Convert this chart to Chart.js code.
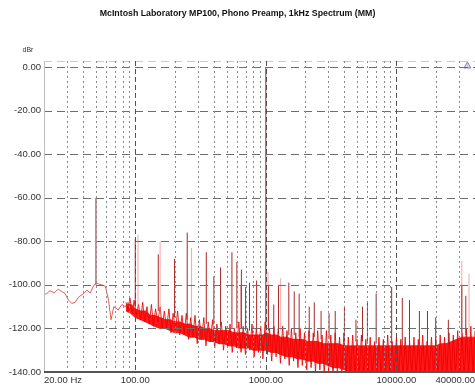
<!DOCTYPE html>
<html>
<head>
<meta charset="utf-8">
<script src="https://cdn.jsdelivr.net/npm/chart.js@4.4.1/dist/chart.umd.min.js"></script>
<style>
  html, body { margin: 0; padding: 0; background: #fff; }
</style>
</head>
<body>
<canvas id="chart" width="475" height="392"></canvas>
<script>
// MP100 phono stage, MM input, 1kHz tone spectrum (dBr vs Hz)
const titleText = 'McIntosh Laboratory MP100, Phono Preamp, 1kHz Spectrum (MM)';
const yUnit = 'dBr';

const xTickValues = [20, 100, 1000, 10000, 40000];
const xTickLabels = ['20.00 Hz', '100.00', '1000.00', '10000.00', '40000.00'];
const yTickValues = [0, -20, -40, -60, -80, -100, -120, -140];
const xGridMajor = [100, 1000, 10000];
const xGridMinor = [30, 40, 50, 60, 70, 80, 90, 200, 300, 400, 500, 600, 700, 800, 900,
  2000, 3000, 4000, 5000, 6000, 7000, 8000, 9000, 20000, 30000];

// residual trace below 100 Hz
const lfFreq = [20, 21, 22.2, 24, 25.7, 27.3, 29, 30.8, 32.7, 34.7, 36.8, 40.2, 42.6, 45.2, 47.9,
  49.5, 50.5, 52, 55.5, 59, 62.4, 65.2, 68.5, 74, 79, 84, 88, 91, 94, 96.8];
const lfLevel = [-104.5, -104, -102.7, -103.6, -102, -103, -104, -107, -108.5, -108, -105.6, -104, -102.4, -103.7, -100.5,
  -99.5, -99, -99.5, -100, -100.6, -107, -116, -110, -111.5, -109, -110, -108, -112, -109, -110];

// noise floor: solid core (upper / lower edge)
const bandFreq = [85, 92, 100, 110, 120, 130, 140, 155, 170, 185,
  200, 220, 240, 260, 285, 310, 340, 370, 400, 440,
  480, 520, 570, 620, 680, 740, 800, 870, 950, 1000,
  1100, 1200, 1300, 1450, 1600, 1750, 1900, 2100, 2300, 2500,
  2750, 3000, 3300, 3600, 4000, 4400, 4800, 5300, 5800, 6400,
  7000, 7700, 8500, 9300, 10200, 11200, 12300, 13500, 15000, 16500,
  18000, 20000, 22000, 24000, 26500, 29000, 32000, 35000, 38000, 40000];
const bandTop = [-109, -109, -111, -112, -112, -114, -114, -115, -116, -116,
  -117, -117, -118, -118, -119, -119, -120, -120, -121, -121,
  -121, -121, -122, -122, -122, -123, -123, -123, -123, -122,
  -123, -123, -124, -124, -125, -125, -125, -126, -126, -126,
  -127, -127, -127, -127, -128, -128, -128, -128, -128, -128,
  -128, -128, -128, -128, -128, -128, -128, -128, -128, -128,
  -128, -128, -127, -127, -126, -125, -124, -124, -124, -124];
const bandBottom = [-112, -113, -115, -116, -117, -118, -119, -120, -120, -121,
  -122, -122, -123, -124, -124, -125, -125, -126, -126, -127,
  -127, -128, -128, -129, -129, -129, -130, -130, -130, -130,
  -131, -131, -132, -133, -133, -134, -134, -135, -135, -136,
  -136, -137, -138, -138, -139, -140, -141, -141, -141, -141,
  -141, -141, -141, -141, -141, -141, -141, -141, -141, -141,
  -141, -141, -141, -141, -141, -141, -141, -141, -141, -141];

// noise floor: raw FFT trace over the core
const noiseFreq = [85, 88, 91, 95, 98, 102, 106, 110, 114, 118,
  123, 128, 133, 138, 143, 149, 155, 161, 167, 174,
  181, 188, 195, 203, 211, 219, 228, 237, 246, 256,
  266, 276, 287, 298, 310, 322, 335, 348, 362, 376,
  391, 406, 422, 439, 456, 474, 493, 512, 532, 553,
  575, 598, 621, 646, 671, 698, 725, 754, 783, 814,
  846, 880, 914, 950, 988, 1027, 1067, 1109, 1153, 1198,
  1245, 1294, 1345, 1398, 1453, 1510, 1570, 1631, 1696, 1762,
  1832, 1904, 1979, 2057, 2138, 2222, 2309, 2400, 2495, 2593,
  2695, 2801, 2911, 3026, 3145, 3269, 3397, 3531, 3670, 3814,
  3964, 4120, 4282, 4451, 4626, 4808, 4997, 5194, 5398, 5611,
  5831, 6061, 6299, 6547, 6805, 7073, 7351, 7640, 7941, 8253,
  8578, 8915, 9266, 9630, 10009, 10403, 10812, 11237, 11679, 12139,
  12616, 13113, 13628, 14164, 14722, 15301, 15903, 16528, 17178, 17854,
  18557, 19287, 20045, 20834, 21653, 22505, 23390, 24310, 25267, 26261,
  27294, 28367, 29483, 30643, 31848, 33101, 34403, 35756, 37163, 38625,
  40000];
const noiseLevel = [-108, -112, -106, -113, -107, -114, -109, -116, -108, -117,
  -110, -118, -109, -119, -111, -117, -110, -120, -112, -120,
  -111, -122, -113, -121, -112, -123, -114, -123, -113, -125,
  -115, -124, -114, -127, -116, -125, -115, -128, -117, -126,
  -116, -129, -118, -127, -117, -130, -119, -128, -118, -131,
  -120, -129, -117, -131, -119, -132, -120, -130, -118, -133,
  -120, -131, -119, -134, -117, -132, -120, -135, -119, -133,
  -120, -136, -119, -134, -121, -137, -120, -135, -122, -138,
  -120, -137, -122, -139, -121, -138, -122, -140, -121, -139,
  -123, -141, -121, -140, -123, -142, -122, -141, -124, -142,
  -122, -142, -124, -142, -123, -142, -125, -142, -123, -142,
  -125, -142, -124, -142, -126, -142, -124, -142, -125, -142,
  -123, -142, -126, -142, -124, -142, -125, -142, -124, -142,
  -126, -142, -124, -142, -125, -142, -123, -142, -126, -142,
  -124, -142, -125, -142, -123, -142, -124, -142, -122, -142,
  -123, -142, -121, -142, -122, -142, -120, -142, -119, -142,
  -121];

// discrete tones: 1kHz fundamental, mains harmonics, distortion products
const toneFreq = [50, 100, 150, 200, 250, 350, 400, 450, 550, 600,
  650, 700, 750, 850, 1000, 1050, 1150, 1250, 1500, 1650,
  1800, 2150, 2350, 2650, 3050, 3400, 4000, 4900, 5500, 6000,
  7000, 9200, 11100, 12600, 15000, 17300, 20000, 25000, 31700, 34000];
const tonePeak = [-60, -79, -86, -88, -76, -85, -96, -92, -85, -89.5,
  -93, -101, -99, -98, 0, -100, -109, -100, -99, -103,
  -104, -110, -108, -112, -113, -112, -110, -116, -110, -108,
  -104, -101, -106, -107, -112, -112, -115, -116, -100, -105];
const toneBase = [-100, -110, -112, -115, -116, -118, -118, -119, -120, -120,
  -120, -121, -121, -121, -120, -121, -122, -122, -123, -123,
  -124, -124, -124, -125, -125, -125, -126, -126, -126, -127,
  -127, -127, -128, -128, -128, -128, -128, -127, -122, -123];

// lighter overlaid tones
const faintFreq = [105, 155, 270, 640, 1040, 1300, 31700, 36000];
const faintPeak = [-77, -80, -83, -100, -94, -97, -89, -95];
const faintBase = [-110, -113, -117, -120, -120, -121, -122, -122];

const markerFreq = [35000];
const markerLevel = [0.5];

const pts = (xs, ys) => xs.map((f, i) => ({ x: f, y: ys[i] }));
const spikes = (xs, tops, bases) => xs.flatMap((f, i) => [
  { x: f, y: bases[i] }, { x: f, y: tops[i] }, { x: f, y: null }
]);

function seg(ctx, x1, y1, x2, y2) {
  ctx.beginPath();
  ctx.moveTo(x1, y1);
  ctx.lineTo(x2, y2);
  ctx.stroke();
}

// dashed grid + frame, drawn over the trace like the analyzer does
const gridPlugin = {
  id: 'apGrid',
  afterDatasetsDraw(chart) {
    const { ctx, chartArea: a, scales: { x, y } } = chart;
    ctx.save();
    ctx.lineWidth = 1;

    ctx.strokeStyle = '#c9c9c9';
    ctx.setLineDash([8, 5]);
    seg(ctx, a.left, a.top + 0.5, a.right, a.top + 0.5);

    ctx.strokeStyle = '#6e6e6e';
    yTickValues.forEach(v => {
      if (v <= y.min) return;
      const py = Math.round(y.getPixelForValue(v)) + 0.5;
      seg(ctx, a.left, py, a.right, py);
    });

    ctx.strokeStyle = '#8a8a8a';
    ctx.setLineDash([2, 3]);
    xGridMinor.forEach(v => {
      const px = Math.round(x.getPixelForValue(v)) + 0.5;
      seg(ctx, px, a.top, px, a.bottom);
    });

    ctx.strokeStyle = '#505050';
    ctx.setLineDash([5, 3]);
    xGridMajor.forEach(v => {
      const px = Math.round(x.getPixelForValue(v)) + 0.5;
      seg(ctx, px, a.top, px, a.bottom);
    });

    ctx.setLineDash([]);
    ctx.strokeStyle = '#bdbdbd';
    seg(ctx, a.left + 0.5, a.top, a.left + 0.5, a.bottom);
    ctx.strokeStyle = '#555';
    ctx.lineWidth = 2;
    seg(ctx, a.left, a.bottom, a.right, a.bottom);

    ctx.fillStyle = '#333';
    ctx.font = '7px "Liberation Sans", Arial, sans-serif';
    ctx.textAlign = 'center';
    ctx.textBaseline = 'middle';
    ctx.fillText(yUnit, a.left - 16, a.top - 11);
    ctx.restore();
  }
};

Chart.defaults.font.family = '"Liberation Sans", Arial, sans-serif';

new Chart(document.getElementById('chart'), {
  type: 'scatter',
  data: {
    datasets: [
      { data: spikes(toneFreq, tonePeak, toneBase), showLine: true, spanGaps: false,
        borderColor: '#a82828', borderWidth: 1, pointRadius: 0, order: 0 },
      { data: spikes(faintFreq, faintPeak, faintBase), showLine: true, spanGaps: false,
        borderColor: 'rgba(235,130,130,0.7)', borderWidth: 1, pointRadius: 0, order: 1 },
      { data: pts(lfFreq, lfLevel), showLine: true,
        borderColor: 'rgba(220,40,40,0.75)', borderWidth: 1, pointRadius: 0, order: 2 },
      { data: pts(noiseFreq, noiseLevel), showLine: true,
        borderColor: 'rgba(235,0,0,0.85)', borderWidth: 1, pointRadius: 0, order: 3 },
      { data: pts(bandFreq, bandTop), showLine: true, fill: '+1',
        backgroundColor: 'rgba(255,0,0,0.9)', borderColor: 'rgba(240,20,20,0.9)', borderWidth: 1,
        pointRadius: 0, order: 4 },
      { data: pts(bandFreq, bandBottom), showLine: true, fill: false,
        borderColor: 'rgba(240,20,20,0.9)', borderWidth: 1, pointRadius: 0, order: 5 },
      { data: pts(markerFreq, markerLevel), pointStyle: 'triangle', pointRadius: 4,
        backgroundColor: 'rgba(150,130,190,0.35)', borderColor: '#8c7fb4', borderWidth: 1,
        clip: false, order: 0 }
    ]
  },
  options: {
    responsive: false,
    animation: false,
    devicePixelRatio: 1,
    layout: { padding: 0, autoPadding: false },
    plugins: {
      legend: { display: false },
      tooltip: { enabled: false },
      title: {
        display: true,
        text: titleText,
        color: '#111',
        font: { size: 8.8, weight: 'bold' },
        padding: { top: 8.5, bottom: 41.9 }
      }
    },
    scales: {
      x: {
        type: 'logarithmic',
        min: 20,
        max: 40000,
        afterBuildTicks: axis => { axis.ticks = xTickValues.map(v => ({ value: v })); },
        afterFit: axis => {
          axis.height = 20;
          axis.paddingLeft = 0;
          axis.paddingRight = 0;
        },
        grid: { display: false, drawTicks: false },
        border: { display: false },
        ticks: {
          align: 'inner',
          autoSkip: false,
          maxRotation: 0,
          padding: 3,
          color: '#333',
          font: { size: 9.5 },
          callback: (v, i) => xTickLabels[i]
        }
      },
      y: {
        type: 'linear',
        min: -140,
        max: 2.8,
        afterBuildTicks: axis => { axis.ticks = yTickValues.map(v => ({ value: v })); },
        afterFit: axis => { axis.width = 44; },
        grid: { display: false, drawTicks: false },
        border: { display: false },
        ticks: {
          padding: 3,
          color: '#333',
          font: { size: 9.5 },
          callback: v => v.toFixed(2)
        }
      }
    }
  },
  plugins: [gridPlugin]
});
</script>
</body>
</html>
